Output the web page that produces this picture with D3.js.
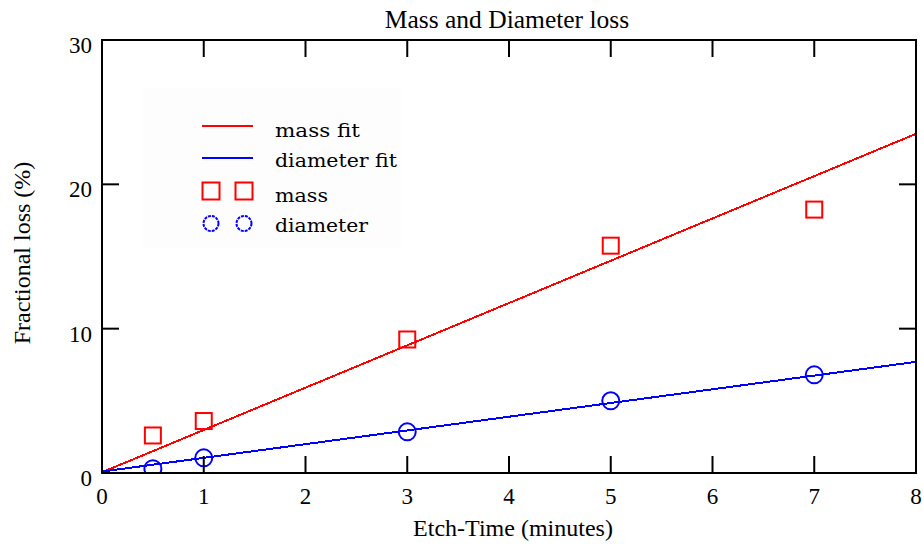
<!DOCTYPE html>
<html>
<head>
<meta charset="utf-8">
<script src="https://cdn.jsdelivr.net/npm/d3@7"></script>
<style>
  body { margin: 0; background: #fff; }
  svg { display: block; }
</style>
</head>
<body>
<div id="chart"></div>
<script>
// data
var etchTime = [0.5, 1, 3, 5, 7];
var massLoss = [2.6, 3.6, 9.25, 15.75, 18.25];
var diamLoss = [0.3, 1.05, 2.85, 5.0, 6.8];
var fitTime = [0, 8];
var massFit = [0.05, 23.5];
var diamFit = [0.1, 7.7];
var xTicks = [0, 1, 2, 3, 4, 5, 6, 7, 8];
var yTicks = [0, 10, 20, 30];

var drawChart = function() {
    var width = 924, height = 544;
    var left = 102, right = 916, top = 40, bottom = 473;
    var serif = "'Liberation Serif', 'Times New Roman', serif";
    var red = "#ff0000", blue = "#0000ff";
    var tickLen = 17;

    var svg = d3.select("#chart").append("svg")
        .attr("width", width)
        .attr("height", height);

    var x = d3.scaleLinear().domain([0, 8]).range([left, right]);
    var y = d3.scaleLinear().domain([0, 30]).range([bottom, top]);

    svg.append("clipPath").attr("id", "plot")
        .append("rect")
        .attr("x", left).attr("y", top)
        .attr("width", right - left).attr("height", bottom - top);

    // faint legend background
    svg.append("rect")
        .attr("x", 142).attr("y", 88)
        .attr("width", 260).attr("height", 160)
        .attr("fill", "#fdfdfd");

    // fit lines
    var fitLine = function(vals) {
        return d3.line()
            .x(function(d, i) { return x(fitTime[i]); })
            .y(function(d) { return y(d); })(vals);
    };
    var plot = svg.append("g").attr("clip-path", "url(#plot)");
    plot.append("path").attr("d", fitLine(massFit))
        .attr("fill", "none").attr("stroke", red).attr("stroke-width", 2)
        .attr("shape-rendering", "crispEdges");
    plot.append("path").attr("d", fitLine(diamFit))
        .attr("fill", "none").attr("stroke", blue).attr("stroke-width", 2)
        .attr("shape-rendering", "crispEdges");

    // markers
    var sq = 16;
    plot.selectAll(".mass").data(massLoss).join("rect")
        .attr("class", "mass")
        .attr("x", function(d, i) { return x(etchTime[i]) - sq / 2; })
        .attr("y", function(d) { return y(d) - sq / 2; })
        .attr("width", sq).attr("height", sq)
        .attr("fill", "none").attr("stroke", red).attr("stroke-width", 2);
    plot.selectAll(".diam").data(diamLoss).join("circle")
        .attr("class", "diam")
        .attr("cx", function(d, i) { return x(etchTime[i]); })
        .attr("cy", function(d) { return y(d); })
        .attr("r", 8.5)
        .attr("fill", "none").attr("stroke", blue).attr("stroke-width", 2);

    // frame and ticks
    var axis = svg.append("g").attr("stroke", "#000").attr("stroke-width", 2);
    axis.append("rect")
        .attr("x", left).attr("y", y(30))
        .attr("width", right - left).attr("height", bottom - y(30))
        .attr("fill", "none");
    axis.selectAll(".xb").data(xTicks).join("line")
        .attr("x1", function(d) { return x(d); }).attr("x2", function(d) { return x(d); })
        .attr("y1", bottom).attr("y2", bottom - tickLen);
    axis.selectAll(".xt").data(xTicks).join("line")
        .attr("x1", function(d) { return x(d); }).attr("x2", function(d) { return x(d); })
        .attr("y1", y(30)).attr("y2", y(30) + tickLen);
    axis.selectAll(".yl").data(yTicks).join("line")
        .attr("x1", left).attr("x2", left + tickLen)
        .attr("y1", function(d) { return y(d); }).attr("y2", function(d) { return y(d); });
    axis.selectAll(".yr").data(yTicks).join("line")
        .attr("x1", right).attr("x2", right - tickLen)
        .attr("y1", function(d) { return y(d); }).attr("y2", function(d) { return y(d); });

    // tick labels
    svg.append("g").selectAll("text").data(xTicks).join("text")
        .attr("x", function(d) { return x(d); })
        .attr("y", 504)
        .attr("text-anchor", "middle")
        .attr("font-family", serif).attr("font-size", 23)
        .text(function(d) { return d; });
    svg.append("g").selectAll("text").data(yTicks).join("text")
        .attr("x", 92)
        .attr("y", function(d) { return y(d) + 13; })
        .attr("text-anchor", "end")
        .attr("font-family", serif).attr("font-size", 23)
        .text(function(d) { return d; });

    // titles
    svg.append("text")
        .attr("x", 507).attr("y", 28)
        .attr("text-anchor", "middle")
        .attr("font-family", serif).attr("font-size", 25.5)
        .text("Mass and Diameter loss");
    svg.append("text")
        .attr("x", 513).attr("y", 536)
        .attr("text-anchor", "middle")
        .attr("font-family", serif).attr("font-size", 24)
        .text("Etch-Time (minutes)");
    svg.append("text")
        .attr("transform", "translate(30,253) rotate(-90)")
        .attr("text-anchor", "middle")
        .attr("font-family", serif).attr("font-size", 24)
        .text("Fractional loss (%)");

    // legend
    var legFont = "'DejaVu Serif', serif";
    var leg = svg.append("g");
    var legItems = [
        {label: "mass fit", w: 85, y: 137},
        {label: "diameter fit", w: 122, y: 167},
        {label: "mass", w: 53, y: 202},
        {label: "diameter", w: 93, y: 232}
    ];
    leg.selectAll("text").data(legItems).join("text")
        .attr("x", 275).attr("y", function(d) { return d.y; })
        .attr("font-family", legFont).attr("font-size", 18)
        .attr("textLength", function(d) { return d.w; })
        .attr("lengthAdjust", "spacingAndGlyphs")
        .text(function(d) { return d.label; });
    leg.append("line").attr("x1", 202).attr("x2", 253).attr("y1", 126).attr("y2", 126)
        .attr("stroke", red).attr("stroke-width", 2);
    leg.append("line").attr("x1", 202).attr("x2", 253).attr("y1", 158).attr("y2", 158)
        .attr("stroke", blue).attr("stroke-width", 2);
    leg.selectAll(".lsq").data([211, 244]).join("rect")
        .attr("x", function(d) { return d - 8.5; }).attr("y", 182.5)
        .attr("width", 17).attr("height", 17)
        .attr("fill", "none").attr("stroke", red).attr("stroke-width", 2);
    leg.selectAll(".lci").data([211, 244]).join("circle")
        .attr("cx", function(d) { return d; }).attr("cy", 223.5)
        .attr("r", 7.5)
        .attr("fill", "none").attr("stroke", blue).attr("stroke-width", 2)
        .attr("stroke-dasharray", "3,1");
};

window.addEventListener("load", drawChart);
</script>
</body>
</html>
